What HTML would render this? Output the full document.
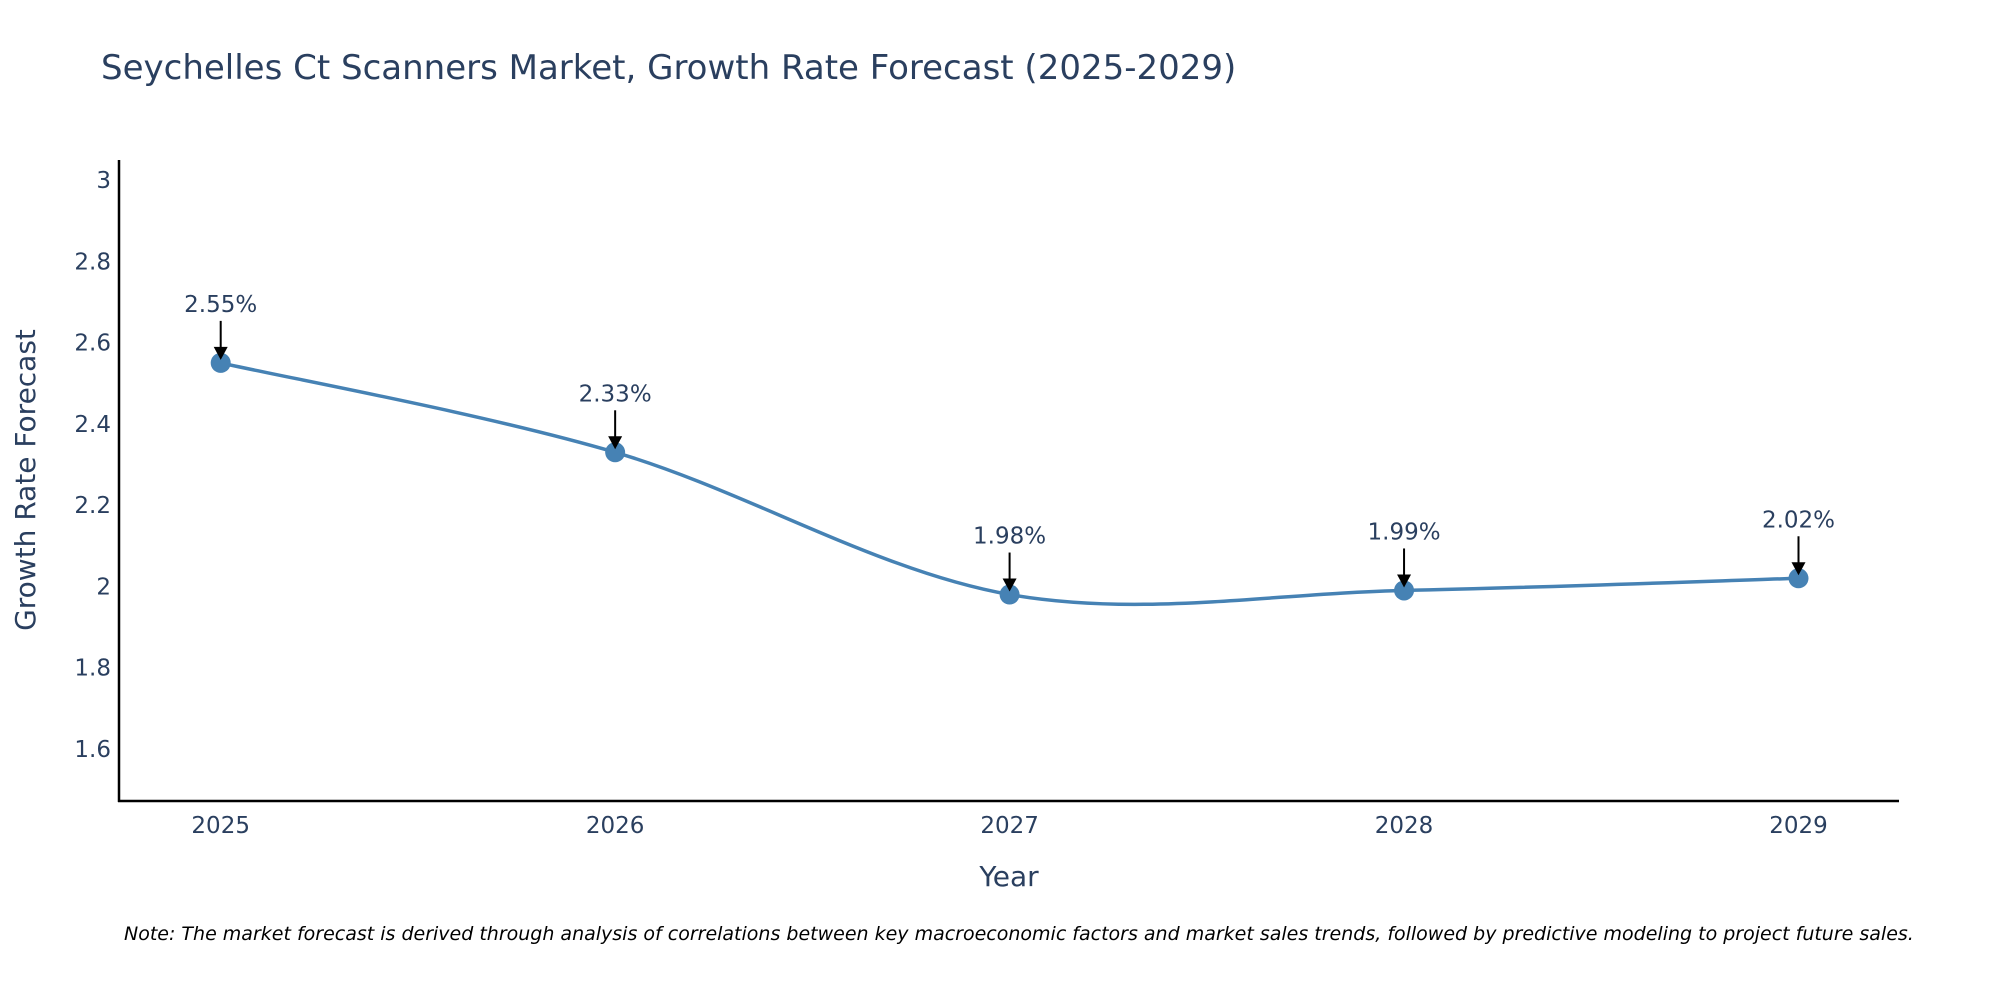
<!DOCTYPE html>
<html><head><meta charset="utf-8"><style>
body{margin:0;background:#fff;}
svg text{font-family:"DejaVu Sans","Liberation Sans",sans-serif;fill:#2a3f5f;}
</style></head><body>
<svg id="chart" width="2000" height="1000" xmlns="http://www.w3.org/2000/svg">
<rect width="2000" height="1000" fill="#fff"/>
<text x="101" y="79" font-size="34">Seychelles Ct Scanners Market, Growth Rate Forecast (2025-2029)</text>
<g id="yticks"></g><g id="xticks"></g>
<line x1="119" y1="160" x2="119" y2="802" stroke="#000" stroke-width="2.5"/>
<line x1="118" y1="801" x2="1899" y2="801" stroke="#000" stroke-width="2.5"/>
<path id="series-line" fill="none" stroke="#4682b4" stroke-width="3.5"/>
<g id="marks"></g>
<text x="1009" y="886" font-size="28" text-anchor="middle">Year</text>
<text transform="translate(35,480) rotate(-90)" font-size="28" text-anchor="middle">Growth Rate Forecast</text>
<text x="124" y="940" font-size="19" font-style="italic" style="fill:#000">Note: The market forecast is derived through analysis of correlations between key macroeconomic factors and market sales trends, followed by predictive modeling to project future sales.</text>
</svg>
<script>
const years=[2025,2026,2027,2028,2029];
const values=[2.55,2.33,1.98,1.99,2.02];
const labels=["2.55%","2.33%","1.98%","1.99%","2.02%"];
const yTicks=[1.6,1.8,2,2.2,2.4,2.6,2.8,3];
const NS="http://www.w3.org/2000/svg";
function xs(v){return 220.7+(v-2025)*394.45;}
function ys(v){return 180+(3-v)*406.4;}
function mk(t,a,p){const e=document.createElementNS(NS,t);for(const k in a)e.setAttribute(k,a[k]);(p||document.getElementById('chart')).appendChild(e);return e;}
const yg=document.getElementById('yticks'),xg=document.getElementById('xticks'),mg=document.getElementById('marks');
yTicks.forEach(v=>{const t=mk('text',{x:111,y:ys(v)+8,'font-size':23,'text-anchor':'end'},yg);t.textContent=String(v);

});
years.forEach(v=>{const t=mk('text',{x:xs(v),y:833,'font-size':23,'text-anchor':'middle'},xg);t.textContent=String(v);

});
const P=years.map((y,i)=>[xs(y),ys(values[i])]);
let d='M'+P[0][0]+','+P[0][1];
for(let i=0;i<P.length-1;i++){const p0=P[Math.max(i-1,0)],p1=P[i],p2=P[i+1],p3=P[Math.min(i+2,P.length-1)];const k=1/6;
d+=' C'+(p1[0]+(p2[0]-p0[0])*k)+','+(p1[1]+(p2[1]-p0[1])*k)+' '+(p2[0]-(p3[0]-p1[0])*k)+','+(p2[1]-(p3[1]-p1[1])*k)+' '+p2[0]+','+p2[1];}
document.getElementById('series-line').setAttribute('d',d);
P.forEach((p,i)=>{
const c=mk('circle',{cx:p[0],cy:p[1],r:10,fill:'#4682b4'},mg);


const l=mk('line',{x1:p[0],y1:p[1]-42,x2:p[0],y2:p[1]-12,stroke:'#000','stroke-width':2},mg);


const h=mk('path',{d:`M${p[0]-7},${p[1]-16} L${p[0]+7},${p[1]-16} L${p[0]},${p[1]-3} Z`,fill:'#000'},mg);


const t=mk('text',{x:p[0],y:p[1]-51,'font-size':23,'text-anchor':'middle'},mg);t.textContent=labels[i];


});
</script>
</body></html>
